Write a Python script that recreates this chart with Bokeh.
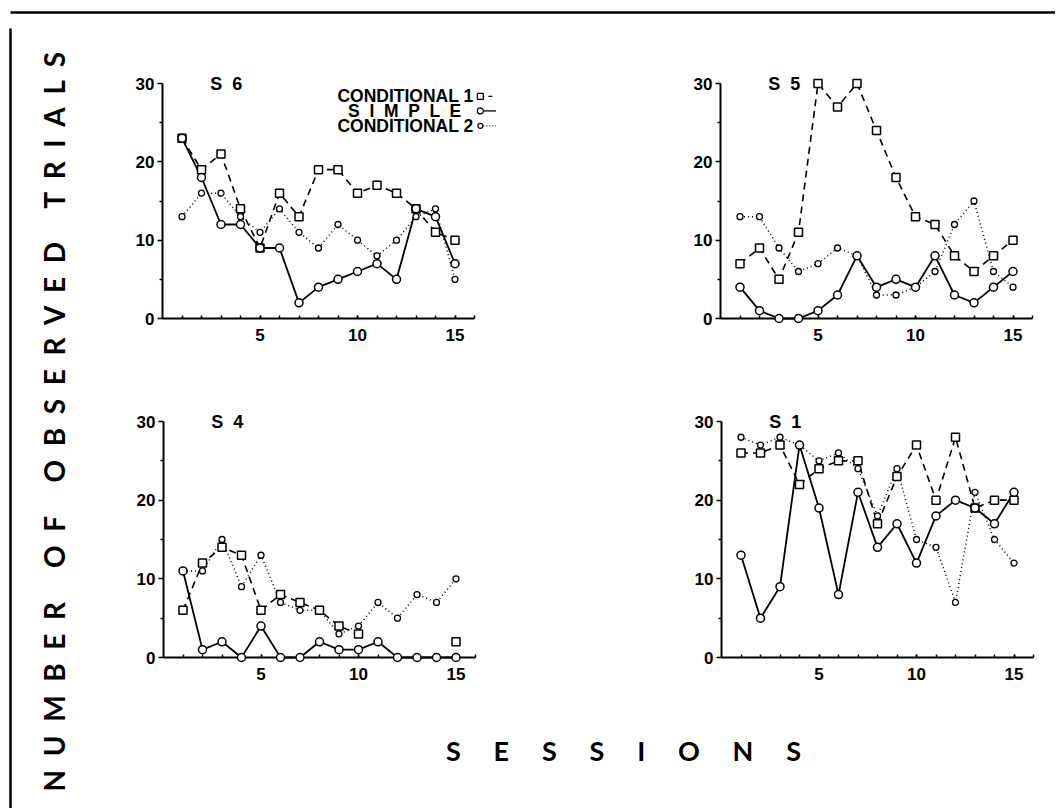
import math
from bokeh.plotting import figure
from bokeh.layouts import row, column
from bokeh.models import Range1d, FixedTicker
from bokeh.core.properties import value
from bokeh.embed import file_html
from bokeh.resources import INLINE

nan = float("nan")
NB = "\u00a0"

# ---------------- data ----------------
sessions = list(range(1, 16))

s6_cond1 = [23, 19, 21, 14, 9, 16, 13, 19, 19, 16, 17, 16, 14, 11, 10]
s6_simple = [23, 18, 12, 12, 9, 9, 2, 4, 5, 6, 7, 5, 14, 13, 7]
s6_cond2 = [13, 16, 16, 13, 11, 14, 11, 9, 12, 10, 8, 10, 13, 14, 5]

s5_cond1 = [7, 9, 5, 11, 30, 27, 30, 24, 18, 13, 12, 8, 6, 8, 10]
s5_simple = [4, 1, 0, 0, 1, 3, 8, 4, 5, 4, 8, 3, 2, 4, 6]
s5_cond2 = [13, 13, 9, 6, 7, 9, 8, 3, 3, 4, 6, 12, 15, 6, 4]

s4_cond1 = [6, 12, 14, 13, 6, 8, 7, 6, 4, 3, nan, nan, nan, nan, 2]
s4_simple = [11, 1, 2, 0, 4, 0, 0, 2, 1, 1, 2, 0, 0, 0, 0]
s4_cond2 = [11, 11, 15, 9, 13, 7, 6, 6, 3, 4, 7, 5, 8, 7, 10]

s1_cond1 = [26, 26, 27, 22, 24, 25, 25, 17, 23, 27, 20, 28, 19, 20, 20]
s1_simple = [13, 5, 9, 27, 19, 8, 21, 14, 17, 12, 18, 20, 19, 17, 21]
s1_cond2 = [28, 27, 28, 27, 25, 26, 24, 18, 24, 15, 14, 7, 21, 15, 12]

x_ticks = [5, 10, 15]
x_minor = list(range(1, 17))
y_ticks = [0, 10, 20, 30]
y_minor = [5, 15, 25]
series_labels = ["CONDITIONAL 1", "S I M P L E", "CONDITIONAL 2"]
panel_names = ["S 6", "S 5", "S 4", "S 1"]
y_title_words = ["NUMBER", "OF", "OBSERVED", "TRIALS"]
x_title_word = "SESSIONS"


def spaced(word, n):
    """letter-spaced word: a real space plus n no-break spaces between letters"""
    return (" " + NB * n).join(word)


def spaced_label(text, n):
    return text.replace(" ", " " + NB * n)


y_title = (" " + NB * 4).join(spaced(w, 1) for w in y_title_words)
x_title = spaced(x_title_word, 4)

TICK_FONT = "Liberation Sans"
LABEL_FONT = "Lato"

DASH_C1 = "7 5"
DASH_C2 = "1 3"


def style_axes(p):
    p.xgrid.visible = False
    p.ygrid.visible = False
    p.outline_line_color = None
    p.background_fill_color = "white"
    p.border_fill_color = "white"
    for ax in (p.xaxis[0], p.yaxis[0]):
        ax.axis_line_width = 2
        ax.axis_line_color = "black"
        ax.major_tick_line_width = 1.5
        ax.minor_tick_line_width = 1.5
        ax.major_label_text_font = TICK_FONT
        ax.major_label_text_font_style = "bold"
        ax.major_label_text_font_size = "17px"
        ax.major_label_text_color = "black"
    xa = p.xaxis[0]
    xa.ticker = FixedTicker(ticks=x_ticks, minor_ticks=x_minor)
    xa.bounds = (0, 16)
    xa.major_tick_in = 3
    xa.major_tick_out = 0
    xa.minor_tick_in = 3
    xa.minor_tick_out = 0
    xa.major_label_standoff = 10
    ya = p.yaxis[0]
    ya.ticker = FixedTicker(ticks=y_ticks, minor_ticks=y_minor)
    ya.major_tick_in = 0
    ya.major_tick_out = 5
    ya.minor_tick_in = 0
    ya.minor_tick_out = 3
    ya.major_label_standoff = 3


def make_panel(name, c1, sm, c2, width, left, right, top, bottom, frame_h,
               x_end=16, legend=False):
    height = top + frame_h + bottom
    p = figure(width=width, height=height,
               x_range=Range1d(0, x_end), y_range=Range1d(0, 30),
               output_backend="svg", toolbar_location=None,
               min_border_left=left, min_border_right=right,
               min_border_top=top, min_border_bottom=bottom)
    style_axes(p)
    lvl = "overlay"
    p.line(sessions, c2, line_color="black", line_width=1.5, line_dash=DASH_C2, level=lvl)
    p.line(sessions, c1, line_color="black", line_width=1.6, line_dash=DASH_C1, level=lvl)
    p.line(sessions, sm, line_color="black", line_width=1.8, level=lvl)
    p.scatter(sessions, c2, marker="circle", size=6, fill_color="white",
              line_color="black", line_width=1.3, level=lvl)
    p.scatter(sessions, c1, marker="square", size=8, fill_color="white",
              line_color="black", line_width=1.5, level=lvl)
    p.scatter(sessions, sm, marker="circle", size=8, fill_color="white",
              line_color="black", line_width=1.5, level=lvl)
    p.text(x=[2.45], y=[29.9], text=[spaced_label(name, 1)], text_font=value(TICK_FONT),
           text_font_style="bold", text_font_size="18px", text_color="black",
           text_align="left", text_baseline="middle", level=lvl)
    if legend:
        ly = [28.35, 26.5, 24.6]
        lx = [15.95, 15.35, 15.95]
        labels = [series_labels[0], spaced_label(series_labels[1], 1), series_labels[2]]
        p.text(x=lx, y=ly, text=labels, text_font=value(TICK_FONT),
               text_font_style="bold", text_font_size="17.5px", text_color="black",
               text_align="right", text_baseline="middle", level=lvl)
        sx0, sx1 = 16.3, 17.1
        p.line([sx0, sx1], [ly[0], ly[0]], line_color="black", line_width=1.3,
               line_dash="4 4", level=lvl)
        p.line([sx0, sx1], [ly[1], ly[1]], line_color="black", line_width=1.3, level=lvl)
        p.line([sx0, sx1], [ly[2], ly[2]], line_color="black", line_width=1.3,
               line_dash="1 2", level=lvl)
        p.scatter([sx0], [ly[0]], marker="square", size=6, fill_color="white",
                  line_color="black", line_width=1.2, level=lvl)
        p.scatter([sx0], [ly[1]], marker="circle", size=6, fill_color="white",
                  line_color="black", line_width=1.2, level=lvl)
        p.scatter([sx0], [ly[2]], marker="circle", size=5, fill_color="white",
                  line_color="black", line_width=1.2, level=lvl)
    return p


def blank(width, height):
    p = figure(width=width, height=height, x_range=Range1d(0, width), y_range=Range1d(0, height),
               output_backend="svg", toolbar_location=None,
               x_axis_location=None, y_axis_location=None,
               min_border=0, min_border_left=0, min_border_right=0,
               min_border_top=0, min_border_bottom=0)
    p.grid.visible = False
    p.outline_line_color = None
    p.background_fill_color = "white"
    p.border_fill_color = "white"
    return p


# geometry (page px)
TOTAL_W, TOTAL_H = 1055, 808
TOP_H = 28
LEFT_W = 103
ROW1_TOP, ROW1_FH, ROW1_BOT = 55, 235, 40
ROW2_TOP, ROW2_FH, ROW2_BOT = 63, 236, 40
UNIT = 19.5
L_W, L_LEFT = 457, 59
L_FRAME6 = 335
R_W = TOTAL_W - LEFT_W - L_W
R_LEFT = 160
BODY_H = TOTAL_H - TOP_H
SESS_H = BODY_H - (ROW1_TOP + ROW1_FH + ROW1_BOT) - (ROW2_TOP + ROW2_FH + ROW2_BOT)
SESS_TOP = TOP_H + (ROW1_TOP + ROW1_FH + ROW1_BOT) + (ROW2_TOP + ROW2_FH + ROW2_BOT)

top_fig = blank(TOTAL_W, TOP_H)
top_fig.line([10, TOTAL_W], [TOP_H - 12, TOP_H - 12], line_color="black", line_width=2.5)

left_fig = blank(LEFT_W, BODY_H)
left_fig.line([10, 10], [0, BODY_H + 1], line_color="black", line_width=2.5)
left_fig.text(x=[53], y=[BODY_H - (419 - TOP_H)], text=[y_title], angle=math.pi / 2,
              text_font=value(LABEL_FONT), text_font_style="bold", text_font_size="28px",
              text_color="black", text_align="center", text_baseline="middle")

p6 = make_panel(panel_names[0], s6_cond1, s6_simple, s6_cond2, L_W, L_LEFT,
                L_W - L_LEFT - L_FRAME6, ROW1_TOP, ROW1_BOT, ROW1_FH,
                x_end=L_FRAME6 / UNIT, legend=True)
p5 = make_panel(panel_names[1], s5_cond1, s5_simple, s5_cond2, R_W, R_LEFT,
                R_W - R_LEFT - 312, ROW1_TOP, ROW1_BOT, ROW1_FH)
p4 = make_panel(panel_names[2], s4_cond1, s4_simple, s4_cond2, L_W, L_LEFT + 1,
                L_W - L_LEFT - 1 - 312, ROW2_TOP, ROW2_BOT, ROW2_FH)
p1 = make_panel(panel_names[3], s1_cond1, s1_simple, s1_cond2, R_W, R_LEFT + 1,
                R_W - R_LEFT - 1 - 312, ROW2_TOP, ROW2_BOT, ROW2_FH)

sess_fig = blank(L_W + R_W, SESS_H)
sess_fig.text(x=[623 - LEFT_W], y=[SESS_H - (750 - SESS_TOP)], text=[x_title],
              text_font=value(LABEL_FONT), text_font_style="bold", text_font_size="27px",
              text_color="black", text_align="center", text_baseline="middle")

layout = column(top_fig,
                row(left_fig,
                    column(row(p6, p5), row(p4, p1), sess_fig)))

open("out.html", "w").write(file_html(layout, INLINE))
